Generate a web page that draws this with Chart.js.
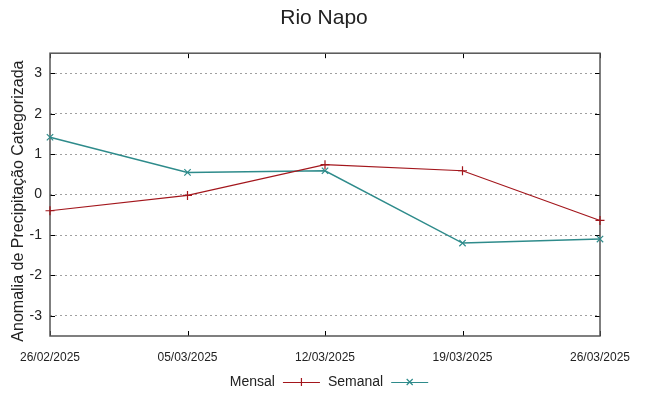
<!DOCTYPE html>
<html><head><meta charset="utf-8">
<script src="https://cdn.jsdelivr.net/npm/chart.js@4"></script>
<style>html,body{margin:0;padding:0;background:#fff}</style>
</head><body>
<canvas id="c" width="648" height="396"></canvas>
<script>
const chartTitle = 'Rio Napo';
const yAxisTitle = 'Anomalia de Precipitação Categorizada';
const dates = ['26/02/2025', '05/03/2025', '12/03/2025', '19/03/2025', '26/03/2025'];
const seriesNames = ['Mensal', 'Semanal'];
const mensal = [-0.40, -0.02, 0.74, 0.59, -0.64];
const semanal = [1.42, 0.55, 0.59, -1.20, -1.10];
const yTicks = [-3, -2, -1, 0, 1, 2, 3];

const RED = '#a3161c';
const TEAL = '#2e8b8b';
const FONT = "'Liberation Sans', Arial, sans-serif";

const framePlugin = {
  id: 'frame',
  beforeDatasetsDraw(chart) {
    const {ctx, chartArea: a, scales} = chart;
    ctx.save();
    ctx.strokeStyle = '#000';
    ctx.lineWidth = 1;
    ctx.beginPath();
    scales.y.ticks.forEach(t => {
      const y = Math.round(scales.y.getPixelForValue(t.value)) + 0.5;
      ctx.moveTo(a.left, y); ctx.lineTo(a.left + 5, y);
      ctx.moveTo(a.right, y); ctx.lineTo(a.right - 5, y);
    });
    dates.forEach((d, i) => {
      const x = Math.round(scales.x.getPixelForValue(i)) + 0.5;
      ctx.moveTo(x, a.top); ctx.lineTo(x, a.top + 5);
      ctx.moveTo(x, a.bottom); ctx.lineTo(x, a.bottom - 5);
    });
    ctx.stroke();
    ctx.strokeStyle = '#555';
    ctx.lineWidth = 1.5;
    ctx.strokeRect(a.left, a.top, a.right - a.left, a.bottom - a.top);
    // y axis title
    ctx.fillStyle = '#222';
    ctx.font = '16px ' + FONT;
    ctx.textAlign = 'center';
    ctx.textBaseline = 'middle';
    ctx.translate(19, (a.top + a.bottom) / 2 + 6.5);
    ctx.rotate(-Math.PI / 2);
    ctx.fillText(yAxisTitle, 0, 0);
    ctx.restore();
  }
};

const legendPlugin = {
  id: 'customLegend',
  afterDraw(chart) {
    const ctx = chart.ctx;
    const ds = chart.data.datasets;
    ctx.save();
    ctx.font = '14px ' + FONT;
    ctx.textBaseline = 'middle';
    const y = 382;
    const lineLen = 37, gap1 = 8, gap2 = 8;
    let total = 0;
    ds.forEach((d, i) => { total += ctx.measureText(d.label).width + gap1 + lineLen + (i < ds.length - 1 ? gap2 : 0); });
    let x = 329 - total / 2;
    ds.forEach((d, i) => {
      const w = ctx.measureText(d.label).width;
      ctx.fillStyle = '#222';
      ctx.textAlign = 'left';
      ctx.fillText(d.label, x, y);
      x += w + gap1;
      ctx.strokeStyle = d.borderColor;
      ctx.lineWidth = 1.2;
      ctx.beginPath();
      ctx.moveTo(x, y + 0.5); ctx.lineTo(x + lineLen, y + 0.5);
      ctx.stroke();
      const cx = x + lineLen / 2;
      ctx.beginPath();
      if (d.pointStyle === 'cross') {
        ctx.moveTo(cx, y - 4); ctx.lineTo(cx, y + 4);
      } else {
        ctx.moveTo(cx - 3, y - 3); ctx.lineTo(cx + 3, y + 3);
        ctx.moveTo(cx + 3, y - 3); ctx.lineTo(cx - 3, y + 3);
      }
      ctx.stroke();
      x += lineLen + gap2;
    });
    ctx.restore();
  }
};

new Chart(document.getElementById('c'), {
  type: 'line',
  data: {
    labels: dates,
    datasets: [
      {
        label: seriesNames[0], data: mensal, yAxisID: 'y',
        borderColor: RED, backgroundColor: RED, borderWidth: 1.2,
        pointStyle: 'cross', pointRadius: 4.5, pointBorderWidth: 1.2,
        pointBorderColor: RED, tension: 0, fill: false, clip: false
      },
      {
        label: seriesNames[1], data: semanal, yAxisID: 'y',
        borderColor: TEAL, backgroundColor: TEAL, borderWidth: 1.5,
        pointStyle: 'crossRot', pointRadius: 4.5, pointBorderWidth: 1.2,
        pointBorderColor: TEAL, tension: 0, fill: false, clip: false
      }
    ]
  },
  options: {
    responsive: false,
    animation: false,
    events: [],
    layout: { padding: { left: 0, right: 0, top: 0, bottom: 28 } },
    plugins: {
      legend: { display: false },
      tooltip: { enabled: false },
      title: {
        display: true, text: chartTitle, color: '#222',
        font: { family: FONT, size: 21, weight: 'normal', lineHeight: 1.2 },
        padding: { top: 6, bottom: 22 }
      }
    },
    scales: {
      x: {
        type: 'category',
        offset: false,
        grid: { display: false, drawTicks: false },
        border: { display: false },
        ticks: {
          color: '#222', padding: 14, maxRotation: 0, autoSkip: false,
          font: { family: FONT, size: 12 }
        },
        afterFit(s) { s.height = 32; }
      },
      y: {
        position: 'left',
        min: -3.5, max: 3.5,
        afterBuildTicks(s) { s.ticks = yTicks.map(v => ({ value: v })); },
        afterFit(s) { s.width = 50; },
        grid: { color: '#a0a0a0', lineWidth: 1, drawTicks: false },
        border: { display: false, dash: [2, 3] },
        ticks: {
          color: '#222', padding: 8,
          font: { family: FONT, size: 14 },
          callback: v => String(v)
        }
      },
      yRight: {
        position: 'right',
        min: -3.5, max: 3.5,
        afterFit(s) { s.width = 48; },
        grid: { display: false, drawTicks: false },
        border: { display: false },
        ticks: { display: false }
      }
    }
  },
  plugins: [framePlugin, legendPlugin]
});
</script>
</body></html>
